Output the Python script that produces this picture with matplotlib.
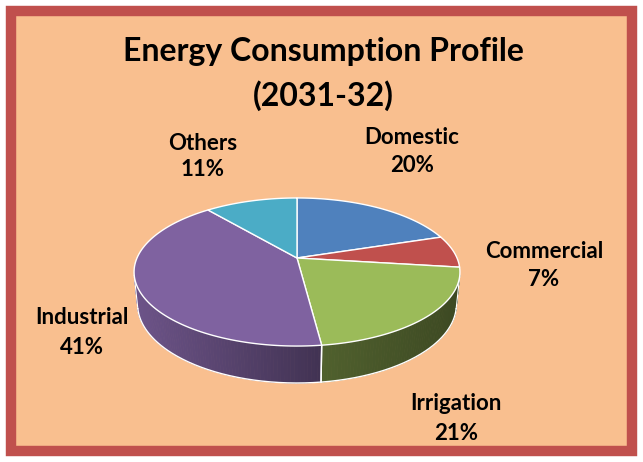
import numpy as np
import matplotlib
matplotlib.use("Agg")
from matplotlib import pyplot as plt
from matplotlib.patches import Polygon, Rectangle
from matplotlib.colors import to_rgb

# datos del grafico
categorias = ["Domestic", "Commercial", "Irrigation", "Industrial", "Others"]
porcentajes = [20, 7, 21, 41, 11]
colores = ["#4F81BD", "#C0504D", "#9BBB59", "#7F62A0", "#4BACC6"]
titulo = ["Energy Consumption Profile", "(2031-32)"]

# posiciones de las etiquetas (pixeles): x, y linea 1, y linea 2
pos_etiquetas = [(412, 137, 165), (544, 252, 280), (456, 404, 433),
                 (82, 318, 347), (203, 143, 170)]

fondo = "#F9BF8F"
borde = "#C0504D"

W, H = 643, 462
fig = plt.figure(figsize=(W / 100, H / 100), dpi=100)
fig.patch.set_facecolor("white")
ax = fig.add_axes([0, 0, 1, 1])
ax.set_xlim(0, W)
ax.set_ylim(H, 0)
ax.axis("off")

# marco
ax.add_patch(Rectangle((11, 11), W - 22, H - 22, facecolor=fondo,
                       edgecolor=borde, linewidth=7.5, zorder=0))

# proyeccion en perspectiva del pastel 3D
cx, cy = 297, 258
phi = np.radians(26.5)
D = 4.73
f = 160 * D
h = 0.228


def proj(a, y):
    x = np.cos(a)
    w = -np.sin(a)
    v = -w * np.sin(phi) + y * np.cos(phi)
    q = w * np.cos(phi) + y * np.sin(phi)
    s = f / (D - q)
    return cx + x * s, cy - v * s


def sombra(X):
    return np.interp(X, [138, 318, 457], [0.85, 0.52, 0.39])


# angulos de cada tajada (sentido horario desde arriba)
fr = np.array(porcentajes, dtype=float) / sum(porcentajes)
inicio = np.pi / 2 - 2 * np.pi * np.concatenate([[0], np.cumsum(fr)[:-1]])
fin = inicio - 2 * np.pi * fr

lim_vis = -1 / (D * np.cos(phi))

# caras laterales
for a0, a1, c in zip(inicio, fin, colores):
    angs = np.linspace(a0, a1, max(int(abs(a1 - a0) / np.radians(1)), 2) + 1)
    base = np.array(to_rgb(c))
    for k in range(len(angs) - 1):
        b0, b1 = angs[k], angs[k + 1]
        am = 0.5 * (b0 + b1)
        if np.sin(am) >= lim_vis:
            continue
        p = [proj(b0, 0), proj(b1, 0), proj(b1, -h), proj(b0, -h)]
        xm = np.mean([pp[0] for pp in p])
        col = np.clip(base * sombra(xm), 0, 1)
        ax.add_patch(Polygon(p, closed=True, facecolor=col, edgecolor=col,
                             linewidth=0.6, zorder=2))

# contorno blanco de la cara lateral
a_vis = np.linspace(-np.pi - np.arcsin(lim_vis), np.arcsin(lim_vis), 300)
xb, yb = proj(a_vis, -h)
ax.plot(xb, yb, color="white", linewidth=1.0, zorder=3)
for a_s in [a_vis[0], a_vis[-1]]:
    x0, y0 = proj(a_s, 0)
    x1, y1 = proj(a_s, -h)
    ax.plot([x0, x1], [y0, y1], color="white", linewidth=0.8, zorder=3)
for a_s in list(inicio) + list(fin):
    if np.sin(a_s) < lim_vis:
        x0, y0 = proj(a_s, 0)
        x1, y1 = proj(a_s, -h)
        ax.plot([x0, x1], [y0, y1], color="white", linewidth=1.0, zorder=3)

# cara superior
for a0, a1, c in zip(inicio, fin, colores):
    angs = np.linspace(a0, a1, 100)
    xs, ys = proj(angs, 0)
    pts = [(cx, cy)] + list(zip(xs, ys))
    ax.add_patch(Polygon(pts, closed=True, facecolor=c, edgecolor="white",
                         linewidth=1.0, joinstyle="round", zorder=4))

# titulo y etiquetas
fuente = "Lato"
ax.text(323, 51, titulo[0], ha="center", va="center", fontsize=23,
        fontweight="bold", family=fuente, zorder=5)
ax.text(323, 96, titulo[1], ha="center", va="center", fontsize=23,
        fontweight="bold", family=fuente, zorder=5)
for nombre, v, (x, y1, y2) in zip(categorias, porcentajes, pos_etiquetas):
    ax.text(x, y1, nombre, ha="center", va="center", fontsize=16,
            fontweight="bold", family=fuente, zorder=5)
    ax.text(x, y2, f"{v}%", ha="center", va="center", fontsize=16,
            fontweight="bold", family=fuente, zorder=5)

fig.savefig("out.png", dpi=100, facecolor=fig.get_facecolor())
